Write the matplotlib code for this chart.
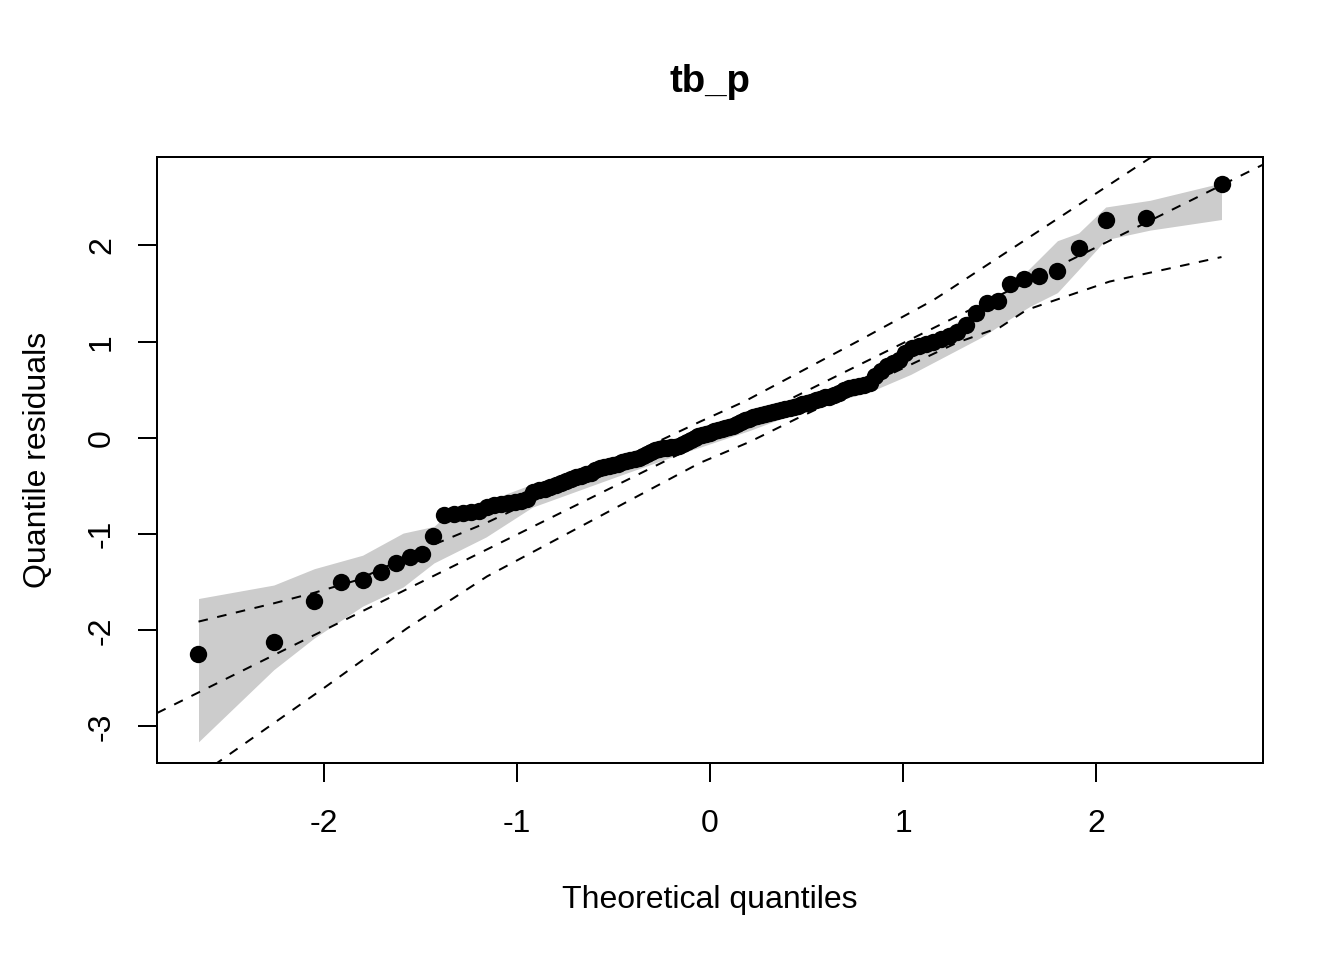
from statistics import NormalDist
import matplotlib
matplotlib.use("Agg")
import matplotlib.pyplot as plt

# sorted quantile residuals
resid = [
    -2.25, -2.12, -1.70, -1.50, -1.48, -1.39, -1.30, -1.24, -1.21, -1.02,
    -0.80, -0.79, -0.78, -0.77, -0.76, -0.72, -0.70, -0.69, -0.68, -0.67,
    -0.66, -0.64, -0.56, -0.54, -0.53, -0.51, -0.49, -0.47, -0.45, -0.43,
    -0.41, -0.40, -0.38, -0.37, -0.33, -0.31, -0.30, -0.29, -0.28, -0.27,
    -0.25, -0.24, -0.23, -0.22, -0.21, -0.19, -0.17, -0.15, -0.13, -0.12,
    -0.11, -0.11, -0.10, -0.09, -0.08, -0.06, -0.04, -0.02, 0.00, 0.02,
    0.03, 0.04, 0.05, 0.07, 0.08, 0.09, 0.10, 0.11, 0.12, 0.14,
    0.17, 0.19, 0.20, 0.22, 0.23, 0.24, 0.25, 0.26, 0.27, 0.28,
    0.29, 0.30, 0.31, 0.32, 0.33, 0.35, 0.36, 0.37, 0.39, 0.40,
    0.42, 0.43, 0.45, 0.47, 0.50, 0.52, 0.53, 0.54, 0.55, 0.57,
    0.64, 0.70, 0.75, 0.78, 0.81, 0.88, 0.93, 0.96, 0.98, 1.00,
    1.03, 1.06, 1.10, 1.17, 1.30, 1.40, 1.42, 1.60, 1.65, 1.68,
    1.73, 1.97, 2.26, 2.29, 2.64,
]

# grey reference band
band_x = [-2.65, -2.26, -2.05, -1.80, -1.59, -1.43, -1.38, -1.16, -0.92, -0.48,
          -0.13, 0.21, 0.50, 0.83, 1.04, 1.41, 1.54, 1.66, 1.80, 1.91, 2.05, 2.28, 2.65]
band_hi = [-1.67, -1.53, -1.36, -1.22, -0.99, -0.92, -0.83, -0.66, -0.48, -0.20,
           0.00, 0.25, 0.44, 0.66, 0.90, 1.37, 1.54, 1.77, 2.05, 2.13, 2.40, 2.47, 2.65]
band_lo = [-3.16, -2.41, -2.08, -1.75, -1.55, -1.30, -1.25, -1.03, -0.72, -0.40,
           -0.15, 0.08, 0.30, 0.48, 0.66, 1.05, 1.22, 1.37, 1.51, 1.75, 2.06, 2.16, 2.27]

# dashed envelope curves
upper_x = [-2.65, -2.26, -2.05, -1.83, -1.42, -1.155, -0.05, 0.18, 0.78, 1.155, 1.24, 2.28, 2.65]
upper_y = [-1.91, -1.72, -1.61, -1.48, -1.10, -0.88, 0.17, 0.38, 1.02, 1.43, 1.54, 2.91, 3.45]
lower_x = [-2.65, -2.554, -2.0, -1.57, -1.155, -0.052, 0.207, 0.449, 1.28, 1.503, 1.64, 2.07, 2.65]
lower_y = [-3.52, -3.38, -2.60, -1.98, -1.44, -0.26, -0.04, 0.20, 0.99, 1.15, 1.33, 1.625, 1.88]

# reference line
ref_intercept = -0.01
ref_slope = 0.995

n = len(resid)
theo = [NormalDist().inv_cdf((i + 0.5) / n) for i in range(n)]

plt.rcParams['font.family'] = ['Liberation Sans', 'DejaVu Sans']
plt.rcParams['axes.unicode_minus'] = False
fig = plt.figure(figsize=(13.44, 9.6), dpi=100)
ax = fig.add_axes([157 / 1344, 1 - 763 / 960, 1106 / 1344, 606 / 960])

dash = (0, (4.8, 4.8))
ax.fill_between(band_x, band_lo, band_hi, color='#cccccc', linewidth=0, zorder=1)
ax.axline((0, ref_intercept), slope=ref_slope, color='black', lw=1.44, linestyle=dash, zorder=2)
ax.plot(upper_x, upper_y, color='black', lw=1.44, linestyle=dash, zorder=2)
ax.plot(lower_x, lower_y, color='black', lw=1.44, linestyle=dash, zorder=2)
ax.plot(theo, resid, 'o', color='black', ms=12.5, mew=0, zorder=3)

ax.set_xlim(-2.865, 2.865)
ax.set_ylim(-3.38, 2.92)
ax.set_xticks([-2, -1, 0, 1, 2])
ax.set_yticks([-3, -2, -1, 0, 1, 2])
for s in ax.spines.values():
    s.set_linewidth(1.44)
ax.tick_params(length=13.8, width=1.44, labelsize=23, color='black')
ax.tick_params(axis='x', pad=19)
ax.tick_params(axis='y', pad=15)
for lab in ax.get_yticklabels():
    lab.set_rotation(90)
    lab.set_va('center')

fig.text(710 / 1344, 1 - 82 / 960, 'tb_p', ha='center', va='center', fontsize=27.6, fontweight='bold')
fig.text(710 / 1344, 1 - 900 / 960, 'Theoretical quantiles', ha='center', va='center', fontsize=23)
fig.text(38 / 1344, 1 - 460 / 960, 'Quantile residuals', ha='center', va='center', fontsize=23, rotation=90)

fig.savefig('out.png', dpi=100)
